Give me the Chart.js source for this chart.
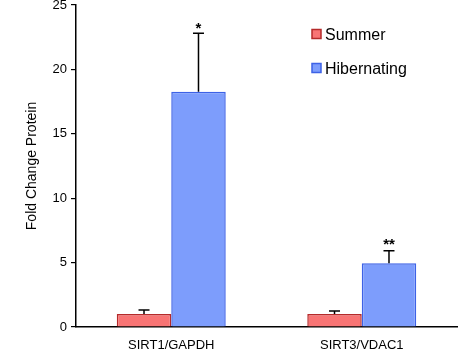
<!DOCTYPE html>
<html><head><meta charset="utf-8">
<script src="https://cdn.jsdelivr.net/npm/chart.js@4/dist/chart.umd.min.js"></script>
<style>html,body{margin:0;padding:0;background:#fff;}#c{display:block;}</style>
</head><body>
<canvas id="c" width="476" height="359"></canvas>
<script>
const categories = ["SIRT1/GAPDH", "SIRT3/VDAC1"];
const summerValues = [1.0, 1.0];
const summerErrors = [0.32, 0.24];
const hibernatingValues = [18.27, 4.94];
const hibernatingErrors = [4.53, 0.98];
const significance = ["*", "**"];
const yTicks = [0, 5, 10, 15, 20, 25];

const FONT = "'Liberation Sans', Arial, sans-serif";

const errorBarPlugin = {
  id: 'errorBars',
  afterDatasetsDraw(chart, args, opts) {
    const ctx = chart.ctx;
    const y = chart.scales.y;
    ctx.save();
    chart.data.datasets.forEach((ds, di) => {
      const meta = chart.getDatasetMeta(di);
      meta.data.forEach((bar, i) => {
        const v = ds.data[i], e = ds.errors[i];
        const top = y.getPixelForValue(v + e);
        const base = y.getPixelForValue(v);
        ctx.strokeStyle = '#000';
        ctx.lineWidth = 1.5;
        ctx.beginPath();
        ctx.moveTo(bar.x, base);
        ctx.lineTo(bar.x, top);
        ctx.moveTo(bar.x - 5.5, top);
        ctx.lineTo(bar.x + 5.5, top);
        ctx.stroke();
        if (ds.marks && ds.marks[i]) {
          ctx.fillStyle = '#000';
          ctx.font = 'bold 15px ' + FONT;
          ctx.textAlign = 'center';
          ctx.textBaseline = 'alphabetic';
          ctx.fillText(ds.marks[i], bar.x, top + opts.markShift[i]);
        }
      });
    });
    ctx.restore();
  }
};

const legendPlugin = {
  id: 'customLegend',
  afterDraw(chart) {
    const ctx = chart.ctx;
    ctx.save();
    const x = 312, ys = [29.5, 63.5];
    chart.data.datasets.forEach((ds, i) => {
      ctx.fillStyle = ds.backgroundColor;
      ctx.strokeStyle = ds.borderColor;
      ctx.lineWidth = 1.5;
      ctx.fillRect(x, ys[i], 9, 9);
      ctx.strokeRect(x, ys[i], 9, 9);
      ctx.fillStyle = '#000';
      ctx.font = '16px ' + FONT;
      ctx.textAlign = 'left';
      ctx.textBaseline = 'middle';
      ctx.fillText(ds.label, 325, ys[i] + 6.5);
    });
    ctx.restore();
  }
};

new Chart(document.getElementById('c'), {
  type: 'bar',
  data: {
    labels: categories,
    datasets: [
      { label: 'Summer', data: summerValues, errors: summerErrors,
        backgroundColor: '#f87474', borderColor: '#b52a2a', borderWidth: 1.5,
        categoryPercentage: 0.572, barPercentage: 1.0 },
      { label: 'Hibernating', data: hibernatingValues, errors: hibernatingErrors, marks: significance,
        backgroundColor: '#7d9dfc', borderColor: '#3d62e6', borderWidth: 1.5,
        categoryPercentage: 0.572, barPercentage: 1.0 }
    ]
  },
  options: {
    responsive: false,
    animation: false,
    layout: { padding: { left: 24, right: 19, top: 5, bottom: 0 } },
    plugins: { legend: { display: false }, tooltip: { enabled: false }, errorBars: { markShift: [0, -1.5] } },
    scales: {
      x: {
        grid: { display: false, drawTicks: false },
        border: { display: true, color: '#000', width: 1.5 },
        ticks: { color: '#000', font: { family: FONT, size: 13 }, padding: 11 },
        afterFit(s) { s.height = 32; }
      },
      y: {
        min: 0, max: 25,
        afterBuildTicks(s) { s.ticks = yTicks.map(v => ({ value: v })); },
        grid: { display: true, drawOnChartArea: false, drawTicks: true, tickLength: 5, color: '#000', lineWidth: 1.2 },
        border: { display: true, color: '#000', width: 1.5 },
        ticks: { color: '#000', font: { family: FONT, size: 13 }, padding: 4 },
        title: { display: true, text: 'Fold Change Protein', color: '#000', font: { family: FONT, size: 14 }, padding: { top: 0, bottom: 0 } },
        afterFit(s) { s.width = 52; s.paddingTop = 0; }
      }
    }
  },
  plugins: [errorBarPlugin, legendPlugin]
});
</script>
</body></html>
